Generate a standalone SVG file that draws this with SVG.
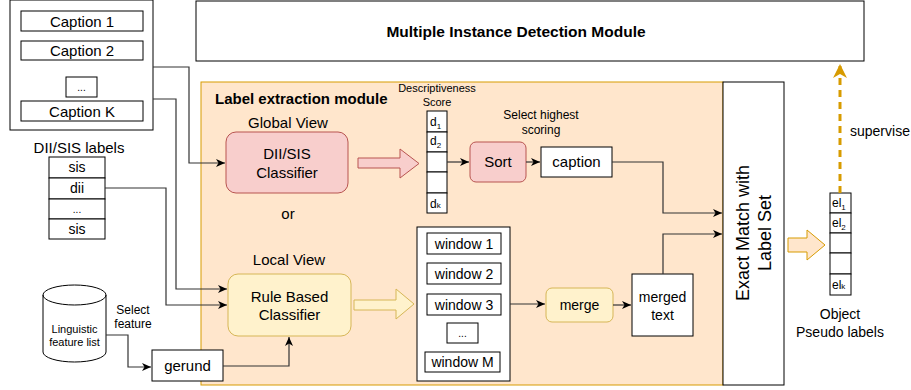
<svg xmlns="http://www.w3.org/2000/svg" width="911" height="390" viewBox="0 0 911 390">
<defs>
<marker id="ah" markerUnits="userSpaceOnUse" markerWidth="10" markerHeight="10" refX="9" refY="5" orient="auto">
<path d="M0,1 L9,5 L0,9 L2.5,5 Z" fill="#000"/>
</marker>
<marker id="oah" markerUnits="userSpaceOnUse" markerWidth="16" markerHeight="14" refX="14" refY="7" orient="auto">
<path d="M0,0 L14,7 L0,14 L4,7 Z" fill="#d79b00"/>
</marker>
</defs>
<style>
text{font-family:"Liberation Sans",Arial,Helvetica,sans-serif;fill:#000}
.box{fill:#fff;stroke:#000;stroke-width:1}
.c{text-anchor:middle}
.t15{font-size:15px}
.t14{font-size:14px}
.t13{font-size:13px}
.t12{font-size:12px}
.t10{font-size:10px}
.b{font-weight:bold}
.edge{fill:none;stroke:#333;stroke-width:1.2;marker-end:url(#ah)}
.pink{fill:#f8cecc;stroke:#b85450;stroke-width:1}
.yel{fill:#fff2cc;stroke:#d6b656;stroke-width:1}
.org{fill:#ffe6cc;stroke:#d79b00;stroke-width:1}
</style>

<g id="mid-module">
<rect class="box" x="196" y="1" width="668" height="60"/>
<text class="c b" font-size="15.5" x="516" y="37">Multiple Instance Detection Module</text>
</g>

<g id="label-extraction-module">
<rect class="org" x="201" y="82" width="522" height="303"/>
<text class="t15 b" x="215" y="104">Label extraction module</text>
</g>

<g id="exact-match">
<rect class="box" x="723" y="82" width="61" height="303"/>
<text class="c" font-size="18" transform="translate(752,233) rotate(-90)"><tspan x="0" y="-3">Exact Match with</tspan><tspan x="0" y="19">Label Set</tspan></text>
</g>

<g id="captions">
<rect class="box" x="10" y="0" width="143" height="130"/>
<rect class="box" x="21" y="11" width="122" height="20"/>
<text class="c t15" x="82" y="26.5">Caption 1</text>
<rect class="box" x="21" y="41" width="122" height="19"/>
<text class="c t15" x="82" y="56">Caption 2</text>
<rect class="box" x="66" y="77" width="31" height="20"/>
<text class="c t10" x="81.5" y="91">...</text>
<rect class="box" x="21" y="101" width="122" height="20"/>
<text class="c t15" x="82" y="116.5">Caption K</text>
</g>

<g id="dii-sis-labels">
<text class="c t15" x="79" y="153">DII/SIS labels</text>
<rect class="box" x="49" y="157" width="56" height="21"/>
<text class="c t14" x="77" y="172">sis</text>
<rect class="box" x="49" y="178" width="56" height="21"/>
<text class="c t14" x="77" y="193">dii</text>
<rect class="box" x="49" y="199" width="56" height="20"/>
<text class="c t10" x="77" y="213">...</text>
<rect class="box" x="49" y="219" width="56" height="20"/>
<text class="c t14" x="77" y="234">sis</text>
</g>

<g id="linguistic-feature-list">
<path d="M43,295 A31.5,10 0 0 1 106,295 V352 A31.5,10 0 0 1 43,352 Z" fill="#fff" stroke="#000"/>
<path d="M43,295 A31.5,10 0 0 0 106,295" fill="none" stroke="#000"/>
<text class="c" font-size="11" x="74.5" y="333">Linguistic</text>
<text class="c" font-size="11" x="74.5" y="346">feature list</text>
</g>

<g id="gerund">
<rect class="box" x="152" y="350" width="71" height="31"/>
<text class="c t15" x="187.5" y="371">gerund</text>
</g>

<g id="dii-sis-classifier">
<text class="c" font-size="15" x="288" y="128">Global View</text>
<rect class="pink" x="226" y="132" width="122" height="61" rx="10"/>
<text class="c" font-size="15" x="287" y="159">DII/SIS</text>
<text class="c" font-size="15" x="287" y="178">Classifier</text>
<text class="c" font-size="15" x="288" y="219">or</text>
</g>

<g id="rule-based-classifier">
<text class="c t15" x="289" y="265">Local View</text>
<rect class="yel" x="228" y="274" width="123" height="62" rx="10"/>
<text class="c t15" x="289.5" y="302">Rule Based</text>
<text class="c t15" x="289.5" y="320">Classifier</text>
</g>

<g id="pink-block-arrow">
<path class="pink" d="M358,158 H400 V149 L419,163.5 L400,178 V168 H358 Z"/>
</g>

<g id="yellow-block-arrow">
<path class="yel" d="M354,300 H396 V289 L414,304 L396,319 V310 H354 Z"/>
</g>

<g id="descriptiveness-score">
<text class="c" font-size="11" x="437" y="92">Descriptiveness</text>
<text class="c" font-size="11" x="437" y="106">Score</text>
<rect class="box" x="427" y="111" width="20" height="21"/>
<text class="t12" x="430" y="126">d<tspan font-size="8" dy="3">1</tspan></text>
<rect class="box" x="427" y="132" width="20" height="20"/>
<text class="t12" x="430" y="145">d<tspan font-size="8" dy="3">2</tspan></text>
<rect class="box" x="427" y="152" width="20" height="20"/>
<rect class="box" x="427" y="172" width="20" height="21"/>
<rect class="box" x="427" y="193" width="20" height="20"/>
<text class="t12" x="430" y="208">d<tspan font-size="8">k</tspan></text>
</g>

<g id="sort">
<text class="c t12" x="541" y="119">Select highest</text>
<text class="c t12" x="541" y="134">scoring</text>
<rect class="pink" x="470" y="142" width="56" height="40" rx="6"/>
<text class="c" font-size="15" x="498" y="167">Sort</text>
</g>

<g id="caption-out">
<rect class="box" x="541" y="147" width="71" height="30"/>
<text class="c" font-size="15" x="576.5" y="167">caption</text>
</g>

<g id="windows">
<rect class="box" x="417" y="227" width="93" height="154"/>
<rect class="box" x="427" y="233" width="74" height="21"/>
<text class="c t14" x="464" y="248.5">window 1</text>
<rect class="box" x="427" y="263" width="74" height="21"/>
<text class="c t14" x="464" y="278.5">window 2</text>
<rect class="box" x="427" y="294" width="74" height="21"/>
<text class="c t14" x="464" y="309.5">window 3</text>
<rect class="box" x="447" y="323" width="31" height="20"/>
<text class="c t10" x="462.5" y="337">...</text>
<rect class="box" x="425" y="352" width="75" height="20"/>
<text class="c t14" x="462.5" y="367">window M</text>
</g>

<g id="merge">
<rect class="yel" x="546" y="288" width="67" height="34" rx="6"/>
<text class="c t14" x="579.5" y="310">merge</text>
</g>

<g id="merged-text">
<rect class="box" x="632" y="274" width="61" height="62"/>
<text class="c t14" x="662.5" y="302">merged</text>
<text class="c t14" x="662.5" y="320">text</text>
</g>

<g id="orange-block-arrow">
<path class="org" d="M788,238 H807 V230 L825,245 L807,260 V252 H788 Z"/>
</g>

<g id="pseudo-labels">
<rect class="box" x="830" y="193" width="21" height="20"/>
<text class="t12" x="832" y="207">el<tspan font-size="8" dy="3">1</tspan></text>
<rect class="box" x="830" y="213" width="21" height="20"/>
<text class="t12" x="832" y="227">el<tspan font-size="8" dy="3">2</tspan></text>
<rect class="box" x="830" y="233" width="21" height="20"/>
<rect class="box" x="830" y="253" width="21" height="21"/>
<rect class="box" x="830" y="274" width="21" height="21"/>
<text class="t12" x="832" y="289">el<tspan font-size="8">k</tspan></text>
<text class="c t14" x="840" y="319">Object</text>
<text class="c t14" x="840" y="337">Pseudo labels</text>
</g>

<g id="connectors">
<path class="edge" d="M153,67 H189 V163 H225"/>
<path class="edge" d="M153,99 H176 V289 H227"/>
<path class="edge" d="M105,188 H166 V305 H227"/>
<path class="edge" d="M106,335 H128 V367 H151"/>
<path class="edge" d="M223,366 H289 V337"/>
<path class="edge" d="M447,162 H469"/>
<path class="edge" d="M526,162 H540"/>
<path class="edge" d="M612,162 H663 V213 H722"/>
<path class="edge" d="M510,304 H545"/>
<path class="edge" d="M613,305 H631"/>
<path class="edge" d="M663,274 V234 H722"/>
<text class="c t12" x="133" y="314">Select</text>
<text class="c t12" x="133" y="328">feature</text>
<path d="M840,193 V64" fill="none" stroke="#d79b00" stroke-width="3" stroke-dasharray="7 5" marker-end="url(#oah)"/>
<text class="t14" x="850" y="136">supervise</text>
</g>
</svg>
